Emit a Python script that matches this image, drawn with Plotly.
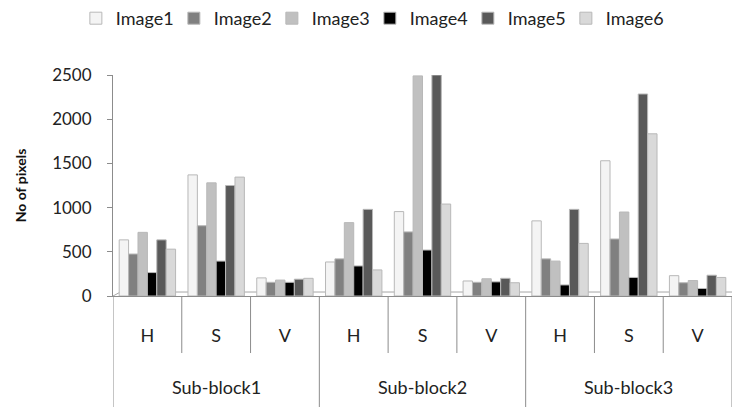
import plotly.graph_objects as go

# Categories: three sub-blocks, each split into H, S and V channels
sub_blocks = ["Sub-block1", "Sub-block2", "Sub-block3"]
channels = ["H", "S", "V"]

# Pixel counts per image, ordered Sub-block1 H,S,V / Sub-block2 H,S,V / Sub-block3 H,S,V
image1 = [635, 1370, 205, 385, 955, 170, 850, 1530, 230]
image2 = [475, 795, 155, 420, 725, 155, 420, 645, 150]
image3 = [720, 1280, 180, 830, 2490, 195, 395, 950, 175]
image4 = [265, 395, 155, 340, 520, 160, 125, 210, 85]
image5 = [635, 1250, 190, 980, 2500, 200, 980, 2285, 235]
image6 = [530, 1345, 200, 295, 1040, 150, 595, 1835, 210]

series_names = ["Image1", "Image2", "Image3", "Image4", "Image5", "Image6"]
series_values = [image1, image2, image3, image4, image5, image6]
series_colors = ["#f4f4f4", "#808080", "#c0c0c0", "#000000", "#595959", "#d9d9d9"]

# One category per (sub-block, channel) pair; ticks show the channel only
categories = [f"{b} {c}" for b in sub_blocks for c in channels]
tick_text = [c for _ in sub_blocks for c in channels]

FONT = "Lato, 'Open Sans', sans-serif"
TEXT_COLOR = "#222222"
AXIS_COLOR = "#8c8c8c"

fig = go.Figure()
for name, vals, col in zip(series_names, series_values, series_colors):
    fig.add_trace(go.Bar(
        name=name,
        x=categories,
        y=vals,
        marker=dict(color=col, line=dict(color="#b8b8b8", width=1)),
    ))

fig.update_layout(
    width=732, height=407,
    margin=dict(l=113, r=0, t=75, b=111),
    paper_bgcolor="white", plot_bgcolor="white",
    barmode="group", bargap=0.18, bargroupgap=0.0,
    font=dict(family=FONT, size=17, color=TEXT_COLOR),
    showlegend=True,
    legend=dict(
        orientation="h", x=-0.06, y=1.258, xanchor="left", yanchor="middle",
        font=dict(family=FONT, size=18, color=TEXT_COLOR),
        entrywidth=53, entrywidthmode="pixels", itemwidth=30,
        traceorder="normal",
    ),
    xaxis=dict(
        type="category",
        range=[-0.5, len(categories) - 0.5],
        tickvals=categories, ticktext=tick_text,
        ticks="", ticklabelstandoff=23,
        showline=True, linecolor=AXIS_COLOR, linewidth=1,
        tickfont=dict(family=FONT, size=18, color=TEXT_COLOR),
        showgrid=False,
    ),
    yaxis=dict(
        range=[0, 2500], dtick=500, tick0=0,
        showline=True, linecolor=AXIS_COLOR, linewidth=1,
        ticks="outside", ticklen=5, tickcolor=AXIS_COLOR,
        ticklabelstandoff=12,
        showgrid=False, zeroline=False,
        tickfont=dict(family=FONT, size=17, color=TEXT_COLOR),
        title=dict(text="<b>No of pixels</b>", font=dict(family=FONT, size=14, color="#111111"), standoff=22),
    ),
)

# Category dividers: short ones between channels, full-height ones between sub-blocks
n_ch = len(channels)
for k in range(len(categories) + 1):
    is_group_edge = k % n_ch == 0
    fig.add_shape(
        type="line", xref="x", yref="paper",
        x0=k - 0.5, x1=k - 0.5, y0=0, y1=-0.51 if is_group_edge else -0.258,
        line=dict(color=AXIS_COLOR, width=1),
    )

# Sub-block names centred under their three channels
for i, b in enumerate(sub_blocks):
    fig.add_annotation(
        x=categories[i * n_ch + n_ch // 2], xref="x",
        y=-0.412, yref="paper", yanchor="middle",
        text=b, showarrow=False,
        font=dict(family=FONT, size=18, color=TEXT_COLOR),
    )

# Thin floor edge running behind the columns
fig.add_shape(type="line", xref="paper", yref="y", x0=0.012, x1=1, y0=45, y1=45,
              line=dict(color="#a6a6a6", width=1), layer="below")
fig.add_shape(type="line", xref="paper", yref="y", x0=0, x1=0.012, y0=0, y1=45,
              line=dict(color="#a6a6a6", width=1), layer="below")

fig.write_html("out.html")
